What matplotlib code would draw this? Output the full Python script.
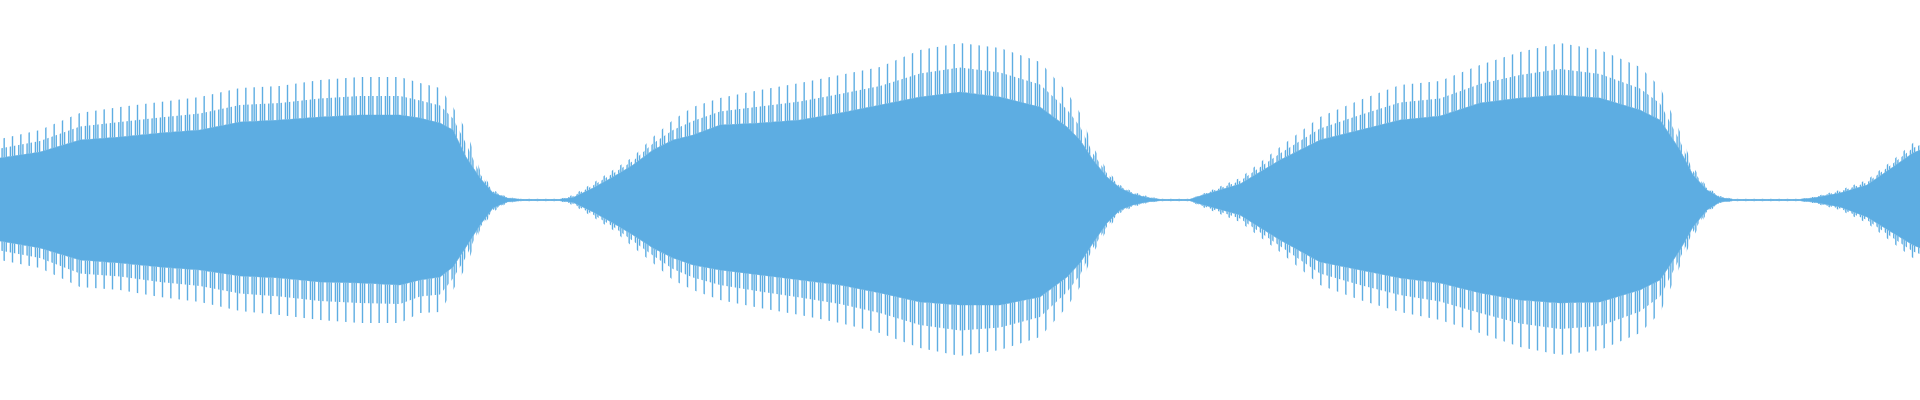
"""
Waveform overview: solid body of the signal with the peak spikes on both sides
"""
import numpy as np
import matplotlib.pyplot as plt

# positions along the clip (image columns, 0..1920) where the envelope was read
frame = [0, 40, 80, 120, 160, 200, 240, 280, 320, 360, 400, 420, 440, 453, 466,
         480, 493, 507, 520, 560, 573, 593, 613, 633, 653, 673, 693, 720, 760,
         800, 840, 880, 920, 960, 1000, 1040, 1067, 1080, 1093, 1107, 1120, 1133,
         1147, 1160, 1190, 1200, 1240, 1280, 1320, 1360, 1400, 1440, 1480, 1520,
         1560, 1600, 1640, 1660, 1680, 1693, 1707, 1720, 1733, 1800, 1813, 1840,
         1867, 1893, 1913, 1920]

# outer spike tips (upper side), in amplitude units (-1..1)
peak_hi = [0.305, 0.35, 0.435, 0.465, 0.49, 0.515, 0.56, 0.57, 0.60, 0.615, 0.615,
           0.585, 0.56, 0.465, 0.35, 0.15, 0.05, 0.015, 0.006, 0.006, 0.025, 0.085,
           0.15, 0.215, 0.315, 0.40, 0.465, 0.51, 0.55, 0.585, 0.625, 0.665, 0.75,
           0.785, 0.76, 0.69, 0.54, 0.435, 0.265, 0.15, 0.075, 0.04, 0.02, 0.006,
           0.006, 0.025, 0.11, 0.265, 0.415, 0.50, 0.575, 0.595, 0.675, 0.74, 0.785,
           0.75, 0.665, 0.565, 0.34, 0.165, 0.065, 0.02, 0.006, 0.006, 0.015, 0.05,
           0.10, 0.20, 0.285, 0.30]

# top edge of the solid body
body_hi = [0.21, 0.24, 0.30, 0.315, 0.335, 0.35, 0.39, 0.40, 0.415, 0.425, 0.425,
           0.41, 0.385, 0.35, 0.215, 0.11, 0.035, 0.01, 0.004, 0.004, 0.012, 0.06,
           0.115, 0.175, 0.25, 0.30, 0.325, 0.375, 0.385, 0.40, 0.435, 0.475, 0.515,
           0.54, 0.515, 0.465, 0.365, 0.30, 0.20, 0.115, 0.06, 0.03, 0.012, 0.004,
           0.004, 0.02, 0.08, 0.20, 0.30, 0.35, 0.40, 0.42, 0.485, 0.51, 0.525,
           0.51, 0.45, 0.40, 0.25, 0.125, 0.05, 0.012, 0.004, 0.004, 0.01, 0.035,
           0.075, 0.165, 0.235, 0.25]

# bottom edge of the solid body
body_lo = [-0.205, -0.24, -0.30, -0.315, -0.335, -0.35, -0.38, -0.39, -0.41,
           -0.415, -0.425, -0.40, -0.385, -0.335, -0.235, -0.125, -0.04, -0.01,
           -0.004, -0.004, -0.012, -0.06, -0.115, -0.175, -0.24, -0.29, -0.325,
           -0.35, -0.375, -0.40, -0.425, -0.465, -0.51, -0.525, -0.525, -0.485,
           -0.385, -0.315, -0.215, -0.115, -0.05, -0.025, -0.01, -0.004, -0.004,
           -0.02, -0.075, -0.20, -0.31, -0.35, -0.39, -0.415, -0.465, -0.50, -0.515,
           -0.51, -0.45, -0.40, -0.25, -0.135, -0.05, -0.01, -0.004, -0.004, -0.01,
           -0.035, -0.085, -0.165, -0.225, -0.24]

# outer spike tips (lower side)
peak_lo = [-0.30, -0.34, -0.435, -0.45, -0.485, -0.51, -0.555, -0.575, -0.60,
           -0.615, -0.615, -0.565, -0.56, -0.45, -0.335, -0.15, -0.06, -0.015,
           -0.006, -0.006, -0.025, -0.085, -0.15, -0.235, -0.315, -0.40, -0.45,
           -0.50, -0.54, -0.575, -0.615, -0.665, -0.74, -0.78, -0.75, -0.685, -0.535,
           -0.435, -0.265, -0.15, -0.065, -0.035, -0.015, -0.006, -0.006, -0.03,
           -0.11, -0.26, -0.425, -0.50, -0.56, -0.60, -0.665, -0.735, -0.775,
           -0.75, -0.665, -0.565, -0.33, -0.185, -0.065, -0.015, -0.006, -0.006,
           -0.015, -0.05, -0.115, -0.215, -0.29, -0.30]

WAVE_COLOR = '#5dade2'

plt.rcParams['hatch.color'] = WAVE_COLOR
plt.rcParams['hatch.linewidth'] = 1.0

x = np.array(frame, dtype=float)
p_hi = np.array(peak_hi)
b_hi = np.array(body_hi)
b_lo = np.array(body_lo)
p_lo = np.array(peak_lo)

fig = plt.figure(figsize=(19.2, 4.0), dpi=100)
ax = fig.add_axes([0, 0, 1, 1])

# solid body
ax.fill_between(x, b_lo, b_hi, color=WAVE_COLOR, linewidth=0.3)

# spikes: every other one reaches the tip envelope, the ones between stop part way
mid_hi = b_hi + 0.5 * (p_hi - b_hi)
mid_lo = b_lo + 0.5 * (p_lo - b_lo)
for lo, hi, pattern in [(b_hi, p_hi, '||'), (b_hi, mid_hi, '||||'),
                        (p_lo, b_lo, '||'), (mid_lo, b_lo, '||||')]:
    ax.fill_between(x, lo, hi, facecolor='none', edgecolor=WAVE_COLOR,
                    hatch=pattern, linewidth=0)

ax.set_xlim(0, 1920)
ax.set_ylim(-1, 1)
ax.axis('off')

fig.savefig('out.png', dpi=100, facecolor='white')
